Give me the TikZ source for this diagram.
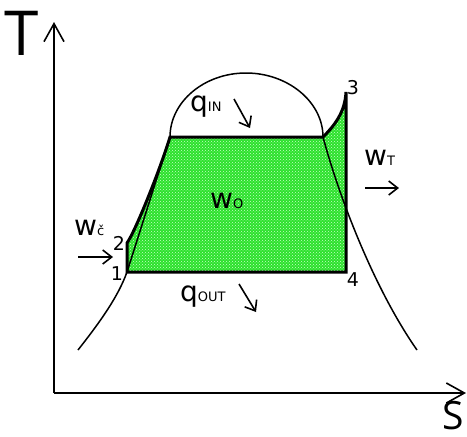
\documentclass[tikz,border=0pt]{standalone}
\usepackage{fontspec}
\setmainfont{DejaVu Sans}
\newfontfamily\axisfont{Open Sans}
\usetikzlibrary{arrows.meta,patterns}
\definecolor{cyclegreen}{RGB}{45,225,45}
\definecolor{dotgreen}{RGB}{200,255,200}
\tikzset{
  axisline/.style={line width=1.8pt,-{Straight Barb[length=18pt,width=20pt,line width=1.6pt]}},
  domeline/.style={line width=1.5pt},
  cycleline/.style={line width=3pt,line join=miter},
  smallarrow/.style={line width=1.6pt,-{Straight Barb[length=9pt,width=14pt,line width=1.6pt]}},
  lbl/.style={inner sep=0pt,anchor=base west},
  numlbl/.style={inner sep=0pt,font=\fontsize{19}{19}\selectfont},
}
\newcommand{\mybigtxt}[1]{{\fontsize{28}{28}\selectfont #1}}
\newcommand{\mysmalltxt}[1]{{\fontsize{13}{13}\selectfont #1}}
\begin{document}
\begin{tikzpicture}[x=1pt,y=-1pt]
\useasboundingbox (0,0) rectangle (467,437);
% cycle points
\coordinate (p1) at (127,272);
\coordinate (p2) at (127,243);
\coordinate (c1) at (170,137);
\coordinate (c2) at (323,137);
\coordinate (p3) at (346,92);
\coordinate (p4) at (346,272);
\coordinate (o) at (54,393);
\coordinate (ty) at (54,22);
\coordinate (sx) at (466,393);
\coordinate (dl) at (78,350);
\coordinate (dr) at (417,350);
% fill
\fill[cyclegreen] (p1) -- (p2) .. controls (135,232) and (160,170) .. (c1) -- (c2)
  .. controls (335,125) and (345,112) .. (p3) -- (p4) -- cycle;
\fill[pattern=crosshatch dots,pattern color=dotgreen] (p1) -- (p2) .. controls (135,232) and (160,170) .. (c1) -- (c2)
  .. controls (335,125) and (345,112) .. (p3) -- (p4) -- cycle;
% dome
\draw[domeline] (dl) .. controls (100,322) and (118,297) .. (p1) -- (c1)
  .. controls (170,102) and (204,73) .. (246,73)
  .. controls (288,73) and (323,102) .. (c2)
  .. controls (340,200) and (375,290) .. (dr);
% cycle
\draw[cycleline] (p1) -- (p2) .. controls (135,232) and (160,170) .. (c1) -- (c2)
  .. controls (335,125) and (345,112) .. (p3) -- (p4) -- cycle;
% axes
\draw[axisline] (o) -- (ty);
\draw[axisline] (o) -- (sx);
\node[inner sep=0pt] (T) at (22,33) {\axisfont\fontsize{62}{62}\selectfont T};
\node[inner sep=0pt,anchor=base] (S) at (453,429) {\axisfont\fontsize{39}{39}\selectfont S};
% numbers
\node[numlbl] (n1) at (117,274) {1};
\node[numlbl] (n2) at (119,243) {2};
\node[numlbl] (n3) at (353,88) {3};
\node[numlbl] (n4) at (353,280) {4};
% labels
\node[lbl] (qin) at (190,111) {\mybigtxt{q}\mysmalltxt{IN}};
\node[lbl] (qout) at (180,301) {\mybigtxt{q}\mysmalltxt{OUT}};
\node[lbl] (wc) at (74,235) {\mybigtxt{w}\mysmalltxt{č}};
\node[lbl] (wo) at (210,208) {\mybigtxt{w}\mysmalltxt{O}};
\node[lbl] (wt) at (364,165) {\mybigtxt{w}\mysmalltxt{T}};
% small arrows
\coordinate (qa1) at (234,99); \coordinate (qa2) at (250,128);
\coordinate (qb1) at (239,284); \coordinate (qb2) at (256,312);
\coordinate (wa1) at (78,257); \coordinate (wa2) at (113,257);
\coordinate (wb1) at (365,188); \coordinate (wb2) at (399,188);
\draw[smallarrow] (qa1) -- (qa2);
\draw[smallarrow] (qb1) -- (qb2);
\draw[smallarrow] (wa1) -- (wa2);
\draw[smallarrow] (wb1) -- (wb2);
\end{tikzpicture}
\end{document}
